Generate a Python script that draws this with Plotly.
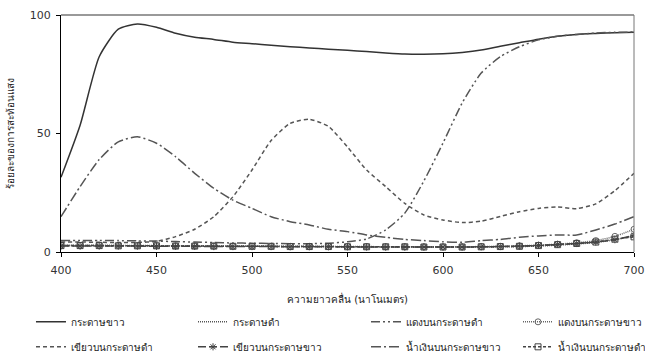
import plotly.graph_objects as go

wavelength = list(range(400, 701, 10))

white_paper = [31.5, 53.5, 82.4, 94.0, 96.2, 94.8, 92.3, 90.6, 89.7, 88.5, 87.9, 87.2, 86.6, 86.1,
               85.6, 85.1, 84.6, 84.0, 83.5, 83.4, 83.6, 84.2, 85.2, 86.8, 88.3, 89.8, 91.0, 91.8,
               92.2, 92.5, 92.7]
black_paper = [2.6, 2.6, 2.6, 2.6, 2.6, 2.6, 2.5, 2.5, 2.5, 2.4, 2.4, 2.4, 2.3, 2.3, 2.3, 2.2,
               2.2, 2.2, 2.1, 2.1, 2.1, 2.1, 2.1, 2.2, 2.3, 2.5, 2.9, 3.4, 4.0, 5.2, 6.8]
red_on_black = [4.8, 4.8, 4.8, 4.8, 4.7, 4.6, 4.4, 4.2, 4.0, 3.8, 3.7, 3.6, 3.5, 3.5, 3.7, 4.3,
                5.5, 9.3, 16.4, 30.0, 46.0, 62.8, 75.5, 82.4, 86.6, 89.5, 91.0, 91.8, 92.4, 92.7,
                92.8]
red_on_white = [2.8, 2.8, 2.8, 2.8, 2.7, 2.7, 2.6, 2.6, 2.5, 2.5, 2.5, 2.4, 2.4, 2.4, 2.3, 2.3,
                2.3, 2.2, 2.2, 2.2, 2.2, 2.2, 2.3, 2.4, 2.6, 2.9, 3.3, 3.9, 4.8, 6.6, 9.6]
green_on_black = [4.2, 4.2, 4.1, 4.0, 4.0, 4.5, 6.5, 9.6, 14.9, 23.3, 34.6, 47.0, 54.3, 56.0,
                  53.0, 44.3, 34.6, 27.6, 20.5, 15.6, 13.5, 12.4, 13.0, 15.0, 17.0, 18.4, 19.0,
                  18.3, 20.3, 25.9, 33.2]
green_on_white = [2.5, 2.5, 2.5, 2.5, 2.5, 2.4, 2.4, 2.4, 2.3, 2.3, 2.3, 2.3, 2.2, 2.2, 2.2, 2.2,
                  2.1, 2.1, 2.1, 2.1, 2.1, 2.1, 2.2, 2.3, 2.5, 2.8, 3.2, 3.6, 4.2, 5.2, 7.0]
blue_on_white = [14.9, 27.6, 39.0, 46.5, 48.6, 45.9, 40.2, 33.2, 26.9, 21.9, 18.4, 14.9, 12.8,
                 11.4, 9.6, 8.6, 7.2, 6.2, 5.3, 4.8, 4.3, 4.1, 4.8, 5.3, 6.2, 6.8, 7.2, 7.2, 9.3,
                 11.8, 14.9]
blue_on_black = [2.7, 2.7, 2.7, 2.6, 2.6, 2.6, 2.5, 2.5, 2.5, 2.4, 2.4, 2.4, 2.3, 2.3, 2.3, 2.2,
                 2.2, 2.2, 2.2, 2.1, 2.1, 2.1, 2.2, 2.3, 2.4, 2.7, 3.1, 3.6, 4.2, 5.4, 6.4]

names = ["กระดาษขาว", "กระดาษดำ", "แดงบนกระดาษดำ", "แดงบนกระดาษขาว",
         "เขียวบนกระดาษดำ", "เขียวบนกระดาษขาว", "น้ำเงินบนกระดาษขาว", "น้ำเงินบนกระดาษดำ"]
series = [white_paper, black_paper, red_on_black, red_on_white,
          green_on_black, green_on_white, blue_on_white, blue_on_black]
# legend column for each series (4 columns x 2 rows)
legend_ids = ["legend", "legend2", "legend3", "legend4",
              "legend", "legend2", "legend3", "legend4"]

x_title = "ความยาวคลื่น (นาโนเมตร)"
y_title = "ร้อยละของการสะท้อนแสง"

styles = [
    dict(color="#333333", dash="solid", marker=None),
    dict(color="#555555", dash="1px,1px", marker=None),
    dict(color="#555555", dash="9px,3px,2px,3px,2px,3px", marker=None),
    dict(color="#666666", dash="1px,1px", marker="circle-open"),
    dict(color="#555555", dash="4px,3px", marker=None),
    dict(color="#444444", dash="8px,3px", marker="asterisk-open"),
    dict(color="#555555", dash="10px,3px,2px,3px", marker=None),
    dict(color="#444444", dash="3px,2px", marker="square-open"),
]

fig = go.Figure()
for i, (name, vals, st, lg) in enumerate(zip(names, series, styles, legend_ids)):
    mode = "lines+markers" if st["marker"] else "lines"
    kw = {}
    if st["marker"]:
        kw["marker"] = dict(symbol=st["marker"], size=6, color=st["color"],
                            line=dict(width=1, color=st["color"]))
    fig.add_trace(go.Scatter(
        x=wavelength, y=vals, name=name, mode=mode, legend=lg, legendgroup=f"g{i}",
        line=dict(color=st["color"], width=1.5, dash=st["dash"], shape="spline", smoothing=0.6),
        **kw))

font_family = "Tahoma, 'DejaVu Sans', 'Noto Sans', sans-serif"

def legend_at(xp):
    return dict(orientation="v", xref="paper", yref="paper",
                x=xp, y=-0.2334, xanchor="left", yanchor="top",
                font=dict(size=10, color="#222222"), tracegroupgap=6,
                traceorder="grouped", bgcolor="rgba(0,0,0,0)")

fig.update_layout(
    width=645, height=357,
    margin=dict(l=61, r=11, t=15, b=105, autoexpand=False),
    paper_bgcolor="white", plot_bgcolor="white",
    font=dict(family=font_family, size=11, color="#333333"),
    showlegend=True,
    legend=legend_at(-0.0524),
    legend2=legend_at(0.2304),
    legend3=legend_at(0.5323),
    legend4=legend_at(0.7976),
    xaxis=dict(range=[400, 700], tickvals=[400, 450, 500, 550, 600, 650, 700],
               ticks="outside", ticklen=4, tickcolor="#000000",
               showline=True, linecolor="#000000", linewidth=1, mirror=False,
               showgrid=False, zeroline=False, automargin=False, ticklabelstandoff=4,
               tickfont=dict(size=11, color="#333333"),
               title=dict(text=x_title, font=dict(size=10, color="#222222"),
                          standoff=19)),
    yaxis=dict(range=[0, 100], tickvals=[0, 50, 100], ticks="outside", ticklen=4,
               tickcolor="#000000",
               showline=True, linecolor="#000000", linewidth=1,
               showgrid=False, zeroline=False, automargin=False, ticklabelstandoff=3,
               tickfont=dict(size=11, color="#333333")),
    annotations=[
        dict(text=y_title, textangle=-90, xref="paper", yref="paper",
             x=-0.0873, y=0.5, xanchor="center", yanchor="middle", showarrow=False,
             font=dict(size=10, color="#222222")),
    ],
    shapes=[
        dict(type="line", xref="paper", yref="paper", x0=0, x1=1, y0=1, y1=1,
             line=dict(color="#777777", width=1.5)),
        dict(type="line", xref="paper", yref="paper", x0=1, x1=1, y0=0, y1=1,
             line=dict(color="#777777", width=1)),
    ],
)

fig.write_html("out.html", config={"displayModeBar": False},
               post_script="document.body.style.margin='0';document.body.style.overflow='hidden';")
